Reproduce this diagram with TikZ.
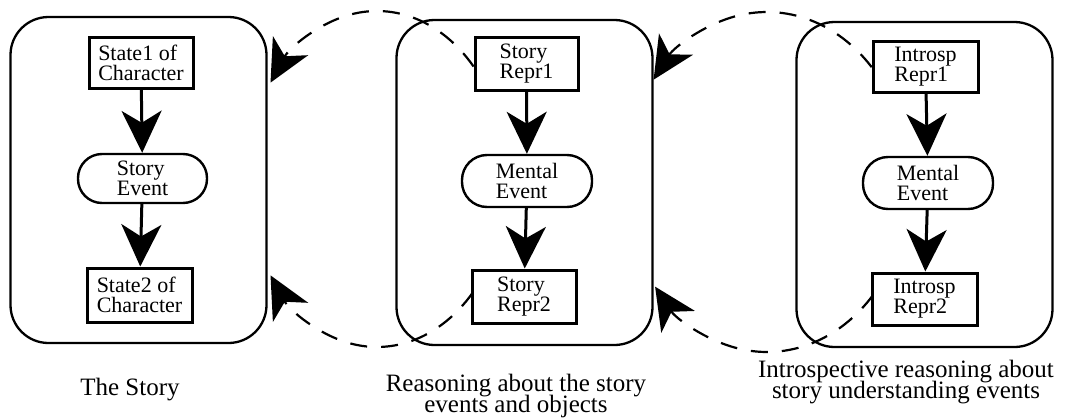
\documentclass[tikz,border=0pt]{standalone}
\usepackage{fontspec}
\setmainfont{Liberation Serif}
\usetikzlibrary{arrows.meta,calc}
\newcommand{\innerfont}{\fontsize{22}{20}\selectfont\lineskiplimit=-40pt\relax}
\newcommand{\capfont}{\fontsize{25}{21}\selectfont\lineskiplimit=-40pt\relax}
\begin{document}
\begin{tikzpicture}[x=1pt,y=-1pt,
  panel/.style={draw, line width=2.3pt, rounded corners=38pt, minimum width=256pt, inner sep=0pt},
  statebox/.style={draw, fill=white, line width=3pt, inner sep=0pt, align=left, font=\innerfont, minimum width=104pt, minimum height=52pt},
  eventbox/.style={draw, fill=white, line width=2.4pt, inner sep=0pt, align=left, font=\innerfont, minimum width=130pt, minimum height=50pt, rounded corners=24pt},
  flow/.style={line width=3pt, -{Stealth[length=42pt,width=40pt,inset=12pt]}},
  loopback/.style={line width=2.2pt, dash pattern=on 17pt off 14pt, -{Stealth[length=42pt,width=40pt,inset=12pt]}},
  caption/.style={align=center, font=\capfont, inner sep=0pt, anchor=north}
]
\useasboundingbox (0,0) rectangle (1082,418);
\fill[white] (0,0) rectangle (1082,418);

% panels
\node[panel, minimum height=326pt] (p1) at (138.5,180) {};
\node[panel, minimum height=325pt] (p2) at (524.5,182.5) {};
\node[panel, minimum height=325pt] (p3) at (924.5,184.5) {};

% dashed loops
\coordinate (e1) at (377,179);
\coordinate (e2) at (767,182);
\draw[loopback] (e1) ++(-42:130 and 168) arc[start angle=-42, end angle=-145, x radius=130, y radius=168];
\draw[loopback] (e1) ++(42.7:130 and 168) arc[start angle=42.7, end angle=145, x radius=130, y radius=168];
\draw[loopback] (e2) ++(-42.5:142 and 170) arc[start angle=-42.5, end angle=-143, x radius=142, y radius=170];
\draw[loopback] (e2) ++(41.7:142 and 170) arc[start angle=41.7, end angle=142, x radius=142, y radius=170];

% panel 1
\node[statebox, minimum height=51pt] (a1) at (141,62.5) {State1 of\\Character};
\node[eventbox, minimum width=129pt, minimum height=49pt] (a2) at (142.5,178.5) {Story\\Event};
\node[statebox, minimum width=105pt, minimum height=54pt] (a3) at (139.5,295) {State2 of\\Character};
\draw[flow] (a1) -- (a2);
\draw[flow] (a2) -- (a3);

% panel 2
\node[statebox, minimum width=103pt, minimum height=53pt] (b1) at (526.5,63.5) {Story\\Repr1};
\node[eventbox, minimum height=52pt, rounded corners=25pt] (b2) at (527,181) {Mental\\Event};
\node[statebox, minimum height=53pt] (b3) at (524,296.5) {Story\\Repr2};
\draw[flow] (b1) -- (b2);
\draw[flow] (b2) -- (b3);

% panel 3
\node[statebox, minimum width=105pt, minimum height=51pt] (c1) at (925.5,66.5) {Introsp\\Repr1};
\node[eventbox, minimum height=52pt, rounded corners=25pt] (c2) at (928,183) {Mental\\Event};
\node[statebox, minimum width=105pt, minimum height=52pt] (c3) at (924.5,299) {Introsp\\Repr2};
\draw[flow] (c1) -- (c2);
\draw[flow] (c2) -- (c3);

% captions
\node[caption] (t1) at (130,378) {The Story};
\node[caption] (t2) at (516,374) {Reasoning about the story\\events and objects};
\node[caption] (t3) at (906,360) {Introspective reasoning about\\story understanding events};
\end{tikzpicture}
\end{document}
